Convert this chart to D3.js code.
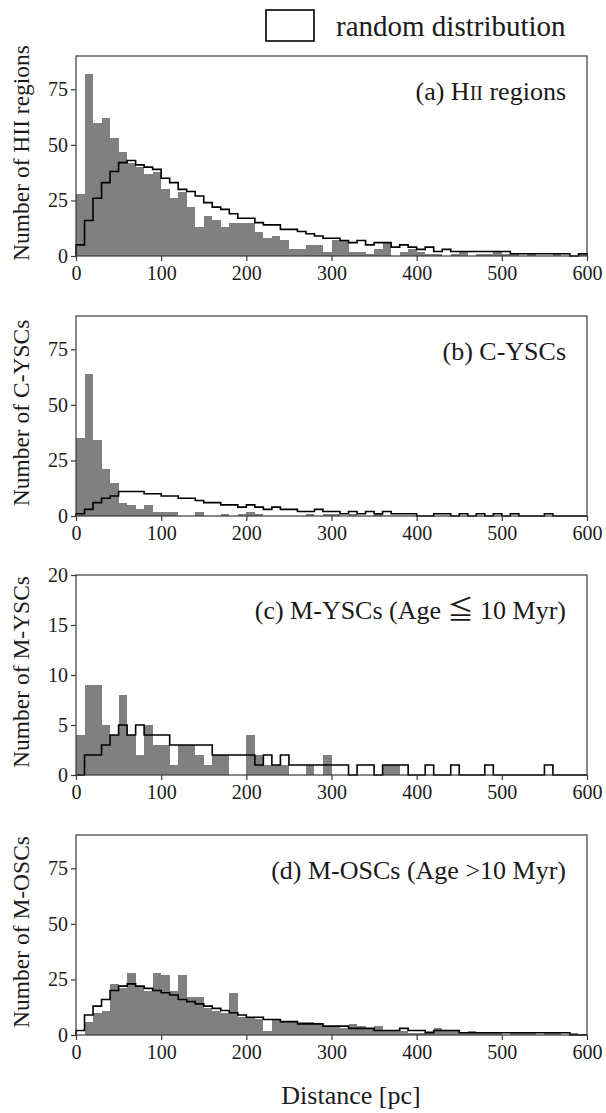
<!DOCTYPE html>
<html>
<head>
<meta charset="utf-8">
<script src="https://cdn.jsdelivr.net/npm/d3@7"></script>
<style>
  html, body { margin: 0; padding: 0; background: #fff; }
  svg { display: block; }
</style>
</head>
<body>
<svg id="chart" width="606" height="1113"></svg>
<script>
// ---------------- data (counts per 10 pc bin, 0–600 pc) ----------------
const binWidth = 10;
const xTicks = [0, 100, 200, 300, 400, 500, 600];

const hiiObserved = [28,82,60,62,53,47,42,40,37,38,30,26,29,22,13,18,16,13,15,15,15,11,8,9,7,3,3,5,5,2,7,7,2,2,1,3,6,0,2,3,2,1,1,0,1,2,0,1,1,2,1,1,0,1,0,0,1,0,0,1];
const hiiRandom   = [5,16,26,33,38,42,43,41,40,39,35,33,30,29,27,24,22,21,19,17,17,15,14,14,12,12,11,10,9,8,8,7,6,7,5,6,6,4,5,4,3,4,2,3,2,2,2,2,2,2,2,1,1,1,1,1,1,1,0,1];

const cyscObserved = [35,64,34,21,15,6,5,3,5,2,2,2,0,0,2,0,0,1,0,1,2,1,0,0,0,0,0,1,0,1,1,0,1,0,0,1,0,0,0,0,0,0,0,0,0,0,0,0,0,0,0,0,0,0,0,0,0,0,0,0];
const cyscRandom   = [1,3,6,8,9,11,11,11,10,10,9,9,8,8,7,6,6,5,5,4,5,4,3,4,3,3,2,2,3,2,2,1,2,1,2,1,2,1,1,1,0,0,1,1,0,1,0,1,0,1,0,1,0,0,0,1,0,0,0,0];

const myscObserved = [4,9,9,5,4,8,4,2,5,3,3,1,3,3,2,1,2,2,0,0,4,2,1,1,1,0,0,1,0,2,0,0,0,0,0,0,1,1,0,0,0,0,0,0,0,0,0,0,0,0,0,0,0,0,0,0,0,0,0,0];
const myscRandom   = [0,2,2,3,4,5,4,5,4,4,4,3,3,3,3,3,2,2,2,2,2,1,2,1,2,1,1,1,1,1,1,1,0,1,1,0,1,1,1,0,0,1,0,0,1,0,0,0,1,0,0,0,0,0,0,1,0,0,0,0];

const moscObserved = [0,6,10,11,23,21,28,22,20,28,27,20,27,17,17,12,11,10,19,8,8,7,2,7,6,6,6,6,5,4,4,3,5,4,3,4,2,2,2,1,1,2,3,2,2,1,2,1,1,1,0,1,1,1,0,1,1,0,1,0];
const moscRandom   = [2,9,13,16,20,22,23,22,21,20,19,18,16,15,14,13,12,11,10,9,8,8,7,7,6,6,5,5,5,4,4,4,3,3,3,2,2,2,3,2,2,1,2,2,2,1,1,1,1,1,1,1,1,1,1,1,1,1,0,0];

const panelLabels = ["(a) H|II| regions", "(b) C-YSCs", "(c) M-YSCs (Age \u2266 10 Myr)", "(d) M-OSCs (Age >10 Myr)"];
const yTitles = ["Number of HII regions", "Number of C-YSCs", "Number of M-YSCs", "Number of M-OSCs"];
const yMaxes = [90, 90, 20, 90];
const yTicksA = [0, 25, 50, 75];
const yTicksC = [0, 5, 10, 15, 20];
const legendLabel = "random distribution";
const xTitle = "Distance [pc]";

// ---------------- layout ----------------
const serif = "'Liberation Serif', 'Times New Roman', 'DejaVu Serif', 'Noto Sans CJK JP', serif";
const left = 76, right = 587;
const panelTops = [56, 316, 575, 835];
const panelH = 200;
const barColor = "#808080";
const frameColor = "#3a3a3a";

const svg = d3.select("#chart");
const x = d3.scaleLinear().domain([0, 600]).range([left, right]);

const panels = [
  { obs: hiiObserved,  rnd: hiiRandom,  ticks: yTicksA },
  { obs: cyscObserved, rnd: cyscRandom, ticks: yTicksA },
  { obs: myscObserved, rnd: myscRandom, ticks: yTicksC },
  { obs: moscObserved, rnd: moscRandom, ticks: yTicksA }
];

panels.forEach((p, k) => {
  const top = panelTops[k];
  const y = d3.scaleLinear().domain([0, yMaxes[k]]).range([top + panelH, top]);
  const g = svg.append("g");

  // observed histogram bars
  const bins = p.obs.map((v, i) => ({ x0: i * binWidth, x1: (i + 1) * binWidth, v }));
  g.append("g").selectAll("rect")
    .data(bins.filter(d => d.v > 0))
    .join("rect")
    .attr("x", d => x(d.x0))
    .attr("width", d => x(d.x1) - x(d.x0))
    .attr("y", d => y(d.v))
    .attr("height", d => y(0) - y(d.v))
    .attr("fill", barColor)
    .attr("shape-rendering", "crispEdges");

  // random distribution step outline
  const pts = [[x(0), y(0)]];
  p.rnd.forEach((v, i) => {
    pts.push([x(i * binWidth), y(v)]);
    pts.push([x((i + 1) * binWidth), y(v)]);
  });
  pts.push([x(p.rnd.length * binWidth), y(0)]);
  g.append("path")
    .attr("d", d3.line()(pts))
    .attr("fill", "none")
    .attr("stroke", "#000")
    .attr("stroke-width", 1.6)
    .attr("stroke-linejoin", "miter");

  // frame
  g.append("rect")
    .attr("x", left).attr("y", top)
    .attr("width", right - left).attr("height", panelH)
    .attr("fill", "none")
    .attr("stroke", frameColor)
    .attr("stroke-width", 1.2);

  // axes
  const yAxis = g.append("g")
    .attr("transform", `translate(${left},0)`)
    .call(d3.axisLeft(y).tickValues(p.ticks).tickSize(5).tickSizeOuter(0).tickPadding(3).tickFormat(d3.format("d")));
  const xAxis = g.append("g")
    .attr("transform", `translate(0,${top + panelH})`)
    .call(d3.axisBottom(x).tickValues(xTicks).tickSize(5).tickSizeOuter(0).tickPadding(5).tickFormat(d3.format("d")));
  [yAxis, xAxis].forEach(a => {
    a.select(".domain").remove();
    a.selectAll(".tick line").attr("stroke", frameColor).attr("stroke-width", 1.2);
    a.selectAll(".tick text").attr("font-family", serif).attr("font-size", 20).attr("fill", "#1a1a1a");
  });

  // y-axis title
  svg.append("text")
    .attr("transform", `translate(29,${top + panelH / 2 - 3}) rotate(-90)`)
    .attr("text-anchor", "middle")
    .attr("font-family", serif)
    .attr("font-size", 23.5)
    .attr("fill", "#1a1a1a")
    .text(yTitles[k]);

  // panel label (supports |small caps| segments)
  const lbl = svg.append("text")
    .attr("x", 566).attr("y", top + 44)
    .attr("text-anchor", "end")
    .attr("font-family", serif)
    .attr("font-size", 26)
    .attr("fill", "#1a1a1a");
  panelLabels[k].split("|").forEach((seg, j) => {
    lbl.append("tspan").attr("font-size", j % 2 === 1 ? 20 : 26).text(seg);
  });
});

// legend
svg.append("rect")
  .attr("x", 266).attr("y", 10).attr("width", 48).attr("height", 31)
  .attr("fill", "none").attr("stroke", "#000").attr("stroke-width", 1.6);
svg.append("text")
  .attr("x", 336).attr("y", 36)
  .attr("font-family", serif).attr("font-size", 29).attr("fill", "#1a1a1a")
  .text(legendLabel);

// x-axis title
svg.append("text")
  .attr("x", 351).attr("y", 1104)
  .attr("text-anchor", "middle")
  .attr("font-family", serif).attr("font-size", 26).attr("fill", "#1a1a1a")
  .text(xTitle);
</script>
</body>
</html>
